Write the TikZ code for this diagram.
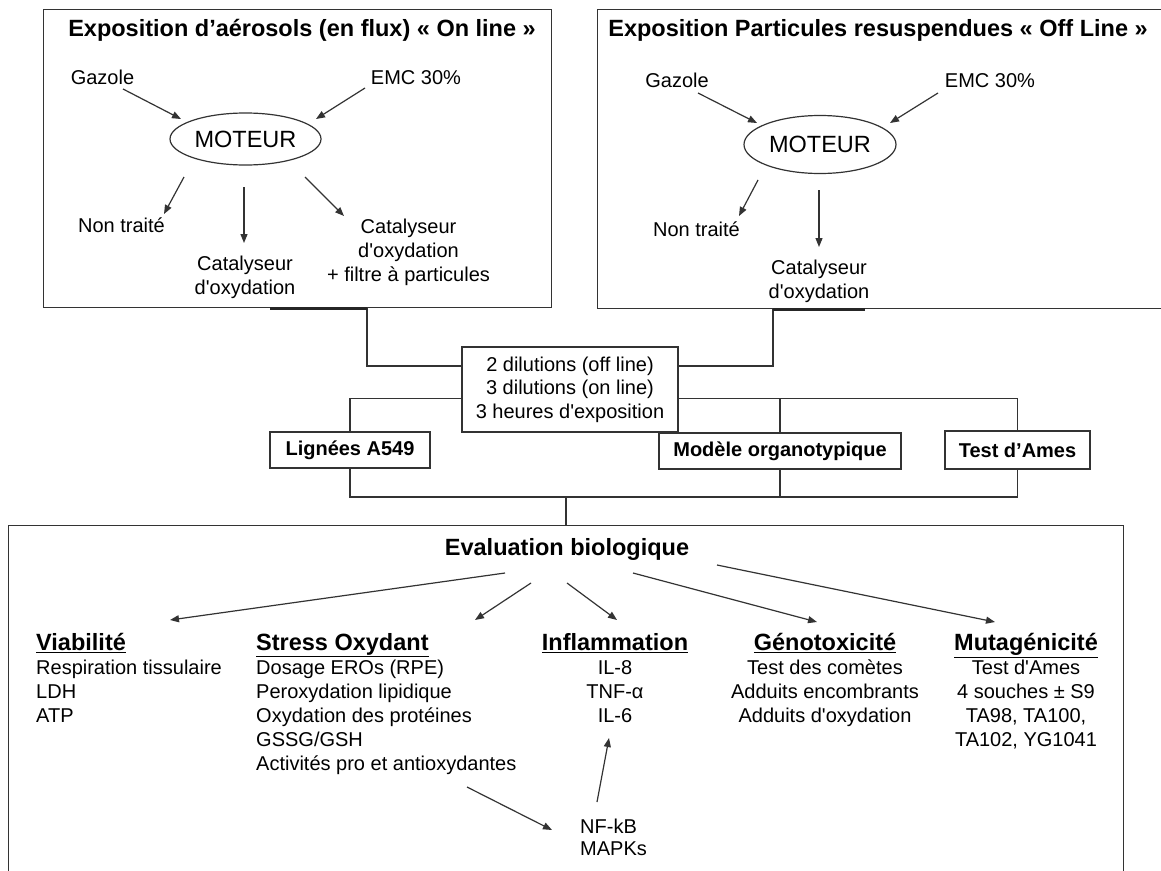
\documentclass[tikz,border=0pt]{standalone}
\usepackage{fontspec}
\newfontfamily\af{Liberation Sans}
\usetikzlibrary{arrows.meta,shapes.geometric}
\newcommand\fst{\rule{0pt}{17pt}}
\begin{document}
\begin{tikzpicture}[x=1pt,y=-1pt,
  ln/.style={draw=black!80,line width=1.2pt},
  arr/.style={ln,-{Triangle[length=9pt,width=7pt]}},
  txt/.style={font=\af\fontsize{20}{24}\selectfont,inner sep=0pt,text=black},
  ttl/.style={font=\af\bfseries\fontsize{23.5}{28}\selectfont,inner sep=0pt,text=black},
  lbl/.style={draw=black!80,line width=1.2pt,font=\af\bfseries\fontsize{20}{24}\selectfont,inner sep=0pt,minimum height=36pt},
  boxd/.style={draw=black!80,line width=1.2pt,font=\af\fontsize{20}{23.5}\selectfont,inner sep=0pt,align=center},
  bigbox/.style={draw=black!80,line width=1.2pt,anchor=north west,inner sep=0pt},
  eng/.style={ellipse,draw=black!80,line width=1.2pt,inner sep=0pt,font=\af\fontsize{23.5}{28}\selectfont},
  thk/.style={draw=black!85,line width=2.6pt},
]
\fill[white] (0,0) rectangle (1161,870);
\useasboundingbox (0,0) rectangle (1161,870);
\clip (0,0) rectangle (1161,870);

% big boxes
\node[bigbox,minimum width=508pt,minimum height=298pt] (lbox) at (43,9) {};
\node[bigbox,minimum width=620pt,minimum height=299pt] (rbox) at (597,9) {};
\node[bigbox,minimum width=1115pt,minimum height=400pt] (bot) at (8,525) {};

% titles
\node[ttl,anchor=base] (t1) at (302,36.4) {Exposition d’aérosols (en flux) « On line »};
\node[ttl,anchor=base] (t2) at (878,36.4) {Exposition Particules resuspendues « Off Line »};

% left top box content
\node[txt,anchor=base] (gaz1) at (102.5,84) {Gazole};
\node[txt,anchor=base] (emc1) at (416,84) {EMC 30\%};
\node[eng,minimum width=151pt,minimum height=52pt] (mot1) at (245.5,139) {MOTEUR};
\node[txt,anchor=base] (nt1) at (121.5,232) {Non traité};
\node[txt,anchor=north,align=center] (cat1) at (245,253) {\fst Catalyseur\\d'oxydation};
\node[txt,anchor=north,align=center] (cat2) at (408.5,216) {\fst Catalyseur\\d'oxydation\\+ filtre à particules};

% right top box content
\node[txt,anchor=base] (gaz2) at (677,87) {Gazole};
\node[txt,anchor=base] (emc2) at (990,87) {EMC 30\%};
\node[eng,minimum width=152pt,minimum height=58pt] (mot2) at (820,144.5) {MOTEUR};
\node[txt,anchor=base] (nt2) at (696.5,236) {Non traité};
\node[txt,anchor=north,align=center] (cat3) at (819,257) {\fst Catalyseur\\d'oxydation};

% arrows left
\draw[arr] ([shift={(20.5,5)}]gaz1.base) -- ([shift={(-64.5,-20)}]mot1.center);
\draw[arr] ([shift={(-51,4)}]emc1.base) -- ([shift={(70.5,-20)}]mot1.center);
\draw[arr] ([shift={(-61.5,38)}]mot1.center) -- ([shift={(42.5,-18)}]nt1.base);
\draw[arr] ([shift={(-1.5,48)}]mot1.center) -- ([shift={(-1,-10)}]cat1.north);
\draw[arr] ([shift={(59.5,38)}]mot1.center) -- ([shift={(-64.5,0)}]cat2.north);

% arrows right
\draw[arr] ([shift={(21,6)}]gaz2.base) -- ([shift={(-63,-21.5)}]mot2.center);
\draw[arr] ([shift={(-52,6)}]emc2.base) -- ([shift={(70,-21.5)}]mot2.center);
\draw[arr] ([shift={(-62,35.5)}]mot2.center) -- ([shift={(42.5,-20)}]nt2.base);
\draw[arr] ([shift={(-1,45.5)}]mot2.center) -- ([shift={(0,-10)}]cat3.north);

% middle
\node[boxd,minimum width=216pt,minimum height=85pt] (dil) at (570,389.5) {2 dilutions (off line)\\3 dilutions (on line)\\3 heures d'exposition};
\node[lbl,minimum width=160pt] (lig) at (350,450) {Lignées A549};
\node[lbl,minimum width=242pt] (mod) at (780,451) {Modèle organotypique};
\node[lbl,minimum width=145pt,minimum height=38pt] (ames) at (1017.5,450) {Test d’Ames};

\coordinate (xL) at (367,0);
\coordinate (xR) at (773,0);
\coordinate (xLt) at (270,0);
\coordinate (xRt) at (865,0);
\coordinate (yA) at (0,366);
\coordinate (yB) at (0,398.5);
\coordinate (yC) at (0,497);
\coordinate (xE) at (566,0);

\draw[ln] (lbox.south -| xL) |- (dil.west |- yA);
\draw[ln] (rbox.south -| xR) |- (dil.east |- yA);
\draw[thk] (lbox.south -| xLt) -- (lbox.south -| xL);
\draw[thk] (rbox.south -| xR) -- (rbox.south -| xRt);
\draw[ln] (dil.west |- yB) -| (lig.north);
\draw[ln] (dil.east |- yB) -| (ames.north);
\draw[ln] (mod.north) -- (mod.north |- yB);
\draw[ln] (lig.south) |- (ames.south |- yC) -- (ames.south);
\draw[ln] (mod.south) -- (mod.south |- yC);
\draw[ln] (bot.north -| xE) -- (xE |- yC);

% bottom box
\node[ttl,anchor=base] (eval) at (567,555.4) {Evaluation biologique};

\node[ttl,anchor=base west] (viab) at (36,650.4) {\underline{Viabilité}};
\node[txt,anchor=north west,align=left] (vlist) at (36,657) {\fst Respiration tissulaire\\LDH\\ATP};
\node[ttl,anchor=base west] (stress) at (256,650.4) {\underline{Stress Oxydant}};
\node[txt,anchor=north west,align=left] (slist) at (256,657) {\fst Dosage EROs (RPE)\\Peroxydation lipidique\\Oxydation des protéines\\GSSG/GSH\\Activités pro et antioxydantes};
\node[ttl,anchor=base] (infl) at (615,650.4) {\underline{Inflammation}};
\node[txt,anchor=north,align=center] (ilist) at (615,657) {\fst IL-8\\TNF-α\\IL-6};
\node[ttl,anchor=base] (geno) at (825,650.4) {\underline{Génotoxicité}};
\node[txt,anchor=north,align=center] (glist) at (825,657) {\fst Test des comètes\\Adduits encombrants\\Adduits d'oxydation};
\node[ttl,anchor=base] (muta) at (1026,650.4) {\underline{Mutagénicité}};
\node[txt,anchor=north,align=center] (mlist) at (1026,657) {\fst Test d'Ames\\4 souches ± S9\\TA98, TA100,\\TA102, YG1041};
\node[txt,anchor=north west,align=left,font=\af\fontsize{20}{22.5}\selectfont] (nfk) at (580,816) {\fst NF-kB\\MAPKs};

\draw[arr] ([shift={(-62,17.6)}]eval.base) -- ([shift={(134,-30.4)}]viab.base west);
\draw[arr] ([shift={(-36,27.6)}]eval.base) -- ([shift={(219,-30.4)}]stress.base west);
\draw[arr] ([shift={(0,27.6)}]eval.base) -- ([shift={(2,-30.4)}]infl.base);
\draw[arr] ([shift={(66,17.6)}]eval.base) -- ([shift={(-8,-28.4)}]geno.base);
\draw[arr] ([shift={(150,9.6)}]eval.base) -- ([shift={(-31,-28.4)}]muta.base);
\draw[arr] ([shift={(211,130)}]slist.north west) -- ([shift={(-28,14)}]nfk.north west);
\draw[arr] ([shift={(17,-14)}]nfk.north west) -- ([shift={(-6,81)}]ilist.north);
\end{tikzpicture}
\end{document}
